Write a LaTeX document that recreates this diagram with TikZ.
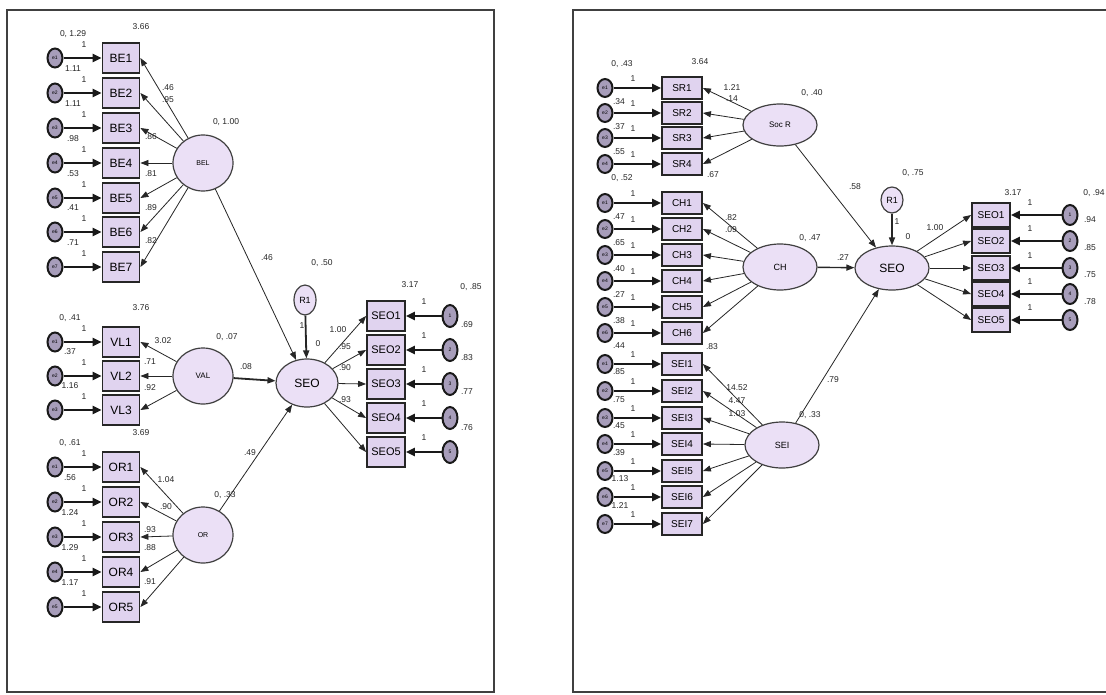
\documentclass[tikz,border=0pt]{standalone}
\usepackage{fontspec}
\setmainfont{Liberation Sans}
\usetikzlibrary{shapes.geometric,arrows.meta}
\definecolor{lav}{HTML}{E0D3EF}
\definecolor{lavE}{HTML}{EBE0F6}
\definecolor{errf}{HTML}{A79DBA}
\begin{document}
\begin{tikzpicture}[x=1pt,y=-1pt,
  ind/.style={rectangle, draw=black!85, line width=1.8pt, fill=lav, inner sep=0pt, font=\fontsize{12}{12}\selectfont},
  indL/.style={ind, minimum width=37pt, minimum height=30pt},
  indR/.style={ind, minimum width=40pt, minimum height=22pt, font=\fontsize{10}{10}\selectfont},
  lat/.style={ellipse, draw=black!75, line width=1.2pt, fill=lavE, inner sep=0pt},
  err/.style={ellipse, draw=black!90, line width=2pt, fill=errf, inner sep=0pt, minimum width=15pt, minimum height=19pt, font=\fontsize{5}{5}\selectfont},
  earrow/.style={-{Triangle[length=9pt,width=8pt]}, line width=2.2pt, draw=black!90},
  larrow/.style={-{Triangle[length=8pt,width=6pt]}, line width=0.8pt, draw=black!85},
  lbl/.style={font=\fontsize{8.5}{9}\selectfont, inner sep=0pt, text=black!85},
  frame/.style={draw=black!75, line width=2.2pt}]
\useasboundingbox (0,0) rectangle (1106,694);
\fill[white] (0,0) rectangle (1106,694);
% frames
\draw[frame] (7,10) rectangle (494,692);
\draw[frame] (1106,10) -- (573,10) -- (573,692) -- (1106,692);

% ================= LEFT PANEL =================
\node[lat, minimum width=60pt, minimum height=56pt, font=\fontsize{7}{7}\selectfont] (BEL) at (203,163) {BEL};
\node[lat, minimum width=60pt, minimum height=56pt, font=\fontsize{8}{8}\selectfont] (VAL) at (203,376) {VAL};
\node[lat, minimum width=60pt, minimum height=56pt, font=\fontsize{7}{7}\selectfont] (OR) at (203,535) {OR};
\node[lat, minimum width=62pt, minimum height=48pt, font=\fontsize{12}{12}\selectfont] (SEOL) at (307,383) {SEO};
\node[lat, minimum width=22pt, minimum height=30pt, font=\fontsize{9}{9}\selectfont] (R1L) at (305,300) {R1};

\foreach \i/\y/\v in {1/58/{0, 1.29},2/93/1.11,3/128/1.11,4/163/.98,5/198/.53,6/232/.41,7/267/.71}{
  \node[indL] (BE\i) at (121,\y) {BE\i};
  \node[err] (eBE\i) at (55,\y) {e\i};
  \draw[earrow] (eBE\i) -- (BE\i);
  \draw[larrow] (BEL) -- (BE\i.east);
  \node[lbl] at (73,\y-24) {\v};
  \node[lbl] at (84,\y-13) {1};
}
\node[lbl] at (141,27) {3.66};
\node[lbl] at (168,88) {.46};
\node[lbl] at (168,100) {.95};
\node[lbl] at (151,137) {.86};
\node[lbl] at (151,174) {.81};
\node[lbl] at (151,208) {.89};
\node[lbl] at (151,241) {.82};
\node[lbl] at (226,122) {0, 1.00};

\foreach \i/\y/\v in {1/342/{0, .41},2/376/.37,3/410/1.16}{
  \node[indL] (VL\i) at (121,\y) {VL\i};
  \node[err] (eVL\i) at (55,\y) {e\i};
  \draw[earrow] (eVL\i) -- (VL\i);
  \draw[larrow] (VAL) -- (VL\i.east);
  \node[lbl] at (70,\y-24) {\v};
  \node[lbl] at (84,\y-13) {1};
}
\node[lbl] at (141,308) {3.76};
\node[lbl] at (163,341) {3.02};
\node[lbl] at (150,362) {.71};
\node[lbl] at (150,388) {.92};
\node[lbl] at (227,337) {0, .07};

\foreach \i/\y/\v in {1/467/{0, .61},2/502/.56,3/537/1.24,4/572/1.29,5/607/1.17}{
  \node[indL] (OR\i) at (121,\y) {OR\i};
  \node[err] (eOR\i) at (55,\y) {e\i};
  \draw[earrow] (eOR\i) -- (OR\i);
  \draw[larrow] (OR) -- (OR\i.east);
  \node[lbl] at (70,\y-24) {\v};
  \node[lbl] at (84,\y-13) {1};
}
\node[lbl] at (141,433) {3.69};
\node[lbl] at (166,480) {1.04};
\node[lbl] at (166,507) {.90};
\node[lbl] at (150,530) {.93};
\node[lbl] at (150,548) {.88};
\node[lbl] at (150,582) {.91};
\node[lbl] at (225,495) {0, .33};

% paths left
\draw[larrow] (BEL) -- (SEOL);
\draw[larrow, line width=1.8pt] (VAL) -- (SEOL);
\draw[larrow] (OR) -- (SEOL);
\draw[larrow, line width=1.8pt] (R1L) -- (SEOL);
\node[lbl] at (267,258) {.46};
\node[lbl] at (246,367) {.08};
\node[lbl] at (250,453) {.49};
\node[lbl] at (322,263) {0, .50};
\node[lbl] at (302,326) {1};
\node[lbl] at (318,344) {0};

\foreach \i/\y/\v in {1/316/{0, .85},2/350/.69,3/384/.83,4/418/.77,5/452/.76}{
  \node[indL, minimum width=38pt, font=\fontsize{11}{11}\selectfont] (SEOL\i) at (386,\y) {SEO\i};
  \node[err, minimum height=22pt] (dL\i) at (450,\y) {\i};
  \draw[earrow] (dL\i) -- (SEOL\i);
  \draw[larrow] (SEOL) -- (SEOL\i.west);
  \node[lbl] at (424,\y-14) {1};
}
\node[lbl] at (410,285) {3.17};
\node[lbl] at (471,287) {0, .85};
\node[lbl] at (467,325) {.69};
\node[lbl] at (467,358) {.83};
\node[lbl] at (467,392) {.77};
\node[lbl] at (467,428) {.76};
\node[lbl] at (338,330) {1.00};
\node[lbl] at (345,347) {.95};
\node[lbl] at (345,368) {.90};
\node[lbl] at (345,400) {.93};

% ================= RIGHT PANEL =================
\node[lat, minimum width=74pt, minimum height=42pt, font=\fontsize{8}{8}\selectfont] (SOC) at (780,125) {Soc R};
\node[lat, minimum width=74pt, minimum height=46pt, font=\fontsize{9}{9}\selectfont] (CH) at (780,267) {CH};
\node[lat, minimum width=74pt, minimum height=46pt, font=\fontsize{9}{9}\selectfont] (SEI) at (782,445) {SEI};
\node[lat, minimum width=74pt, minimum height=44pt, font=\fontsize{12}{12}\selectfont] (SEOR) at (892,268) {SEO};
\node[lat, minimum width=22pt, minimum height=26pt, font=\fontsize{9}{9}\selectfont] (R1R) at (892,200) {R1};

\foreach \i/\y in {1/88,2/113,3/138,4/164}{
  \node[indR] (SR\i) at (682,\y) {SR\i};
  \node[err, minimum height=18pt] (eSR\i) at (605,\y) {e\i};
  \draw[earrow] (eSR\i) -- (SR\i);
  \draw[larrow] (SOC) -- (SR\i.east);
  \node[lbl] at (633,\y-9) {1};
}
\node[lbl] at (622,64) {0, .43};
\node[lbl] at (619,102) {.34};
\node[lbl] at (619,127) {.37};
\node[lbl] at (619,152) {.55};
\node[lbl] at (700,62) {3.64};
\node[lbl] at (732,88) {1.21};
\node[lbl] at (732,99) {.14};
\node[lbl] at (713,175) {.67};
\node[lbl] at (812,93) {0, .40};

\foreach \i/\y in {1/203,2/229,3/255,4/281,5/307,6/333}{
  \node[indR] (CH\i) at (682,\y) {CH\i};
  \node[err, minimum height=18pt] (eCH\i) at (605,\y) {e\i};
  \draw[earrow] (eCH\i) -- (CH\i);
  \draw[larrow] (CH) -- (CH\i.east);
  \node[lbl] at (633,\y-9) {1};
}
\node[lbl] at (622,178) {0, .52};
\node[lbl] at (619,217) {.47};
\node[lbl] at (619,243) {.65};
\node[lbl] at (619,269) {.40};
\node[lbl] at (619,295) {.27};
\node[lbl] at (619,321) {.38};
\node[lbl] at (731,218) {.82};
\node[lbl] at (731,230) {.09};
\node[lbl] at (712,347) {.83};
\node[lbl] at (810,238) {0, .47};

\foreach \i/\y in {1/364,2/391,3/418,4/444,5/471,6/497,7/524}{
  \node[indR] (SEI\i) at (682,\y) {SEI\i};
  \node[err, minimum height=18pt] (eSEI\i) at (605,\y) {e\i};
  \draw[earrow] (eSEI\i) -- (SEI\i);
  \draw[larrow] (SEI) -- (SEI\i.east);
  \node[lbl] at (633,\y-9) {1};
}
\node[lbl] at (619,346) {.44};
\node[lbl] at (619,372) {.85};
\node[lbl] at (619,400) {.75};
\node[lbl] at (619,426) {.45};
\node[lbl] at (619,453) {.39};
\node[lbl] at (620,479) {1.13};
\node[lbl] at (620,506) {1.21};
\node[lbl] at (737,388) {14.52};
\node[lbl] at (737,401) {4.47};
\node[lbl] at (737,414) {1.03};
\node[lbl] at (810,415) {0, .33};

% paths right
\draw[larrow] (SOC) -- (SEOR);
\draw[larrow, line width=1.4pt] (CH) -- (SEOR);
\draw[larrow] (SEI) -- (SEOR);
\draw[larrow, line width=1.6pt] (R1R) -- (SEOR);
\node[lbl] at (855,187) {.58};
\node[lbl] at (843,258) {.27};
\node[lbl] at (833,380) {.79};
\node[lbl] at (913,173) {0, .75};
\node[lbl] at (897,222) {1};
\node[lbl] at (908,237) {0};

\foreach \i/\y in {1/215,2/241,3/268,4/294,5/320}{
  \node[indR, minimum width=38pt, minimum height=24pt] (SEOR\i) at (991,\y) {SEO\i};
  \node[err, minimum height=20pt] (dR\i) at (1070,\y) {\i};
  \draw[earrow] (dR\i) -- (SEOR\i);
  \draw[larrow] (SEOR) -- (SEOR\i.west);
  \node[lbl] at (1030,\y-12) {1};
}
\node[lbl] at (1013,193) {3.17};
\node[lbl] at (935,228) {1.00};
\node[lbl] at (1094,193) {0, .94};
\node[lbl] at (1090,220) {.94};
\node[lbl] at (1090,248) {.85};
\node[lbl] at (1090,275) {.75};
\node[lbl] at (1090,302) {.78};
\end{tikzpicture}
\end{document}
